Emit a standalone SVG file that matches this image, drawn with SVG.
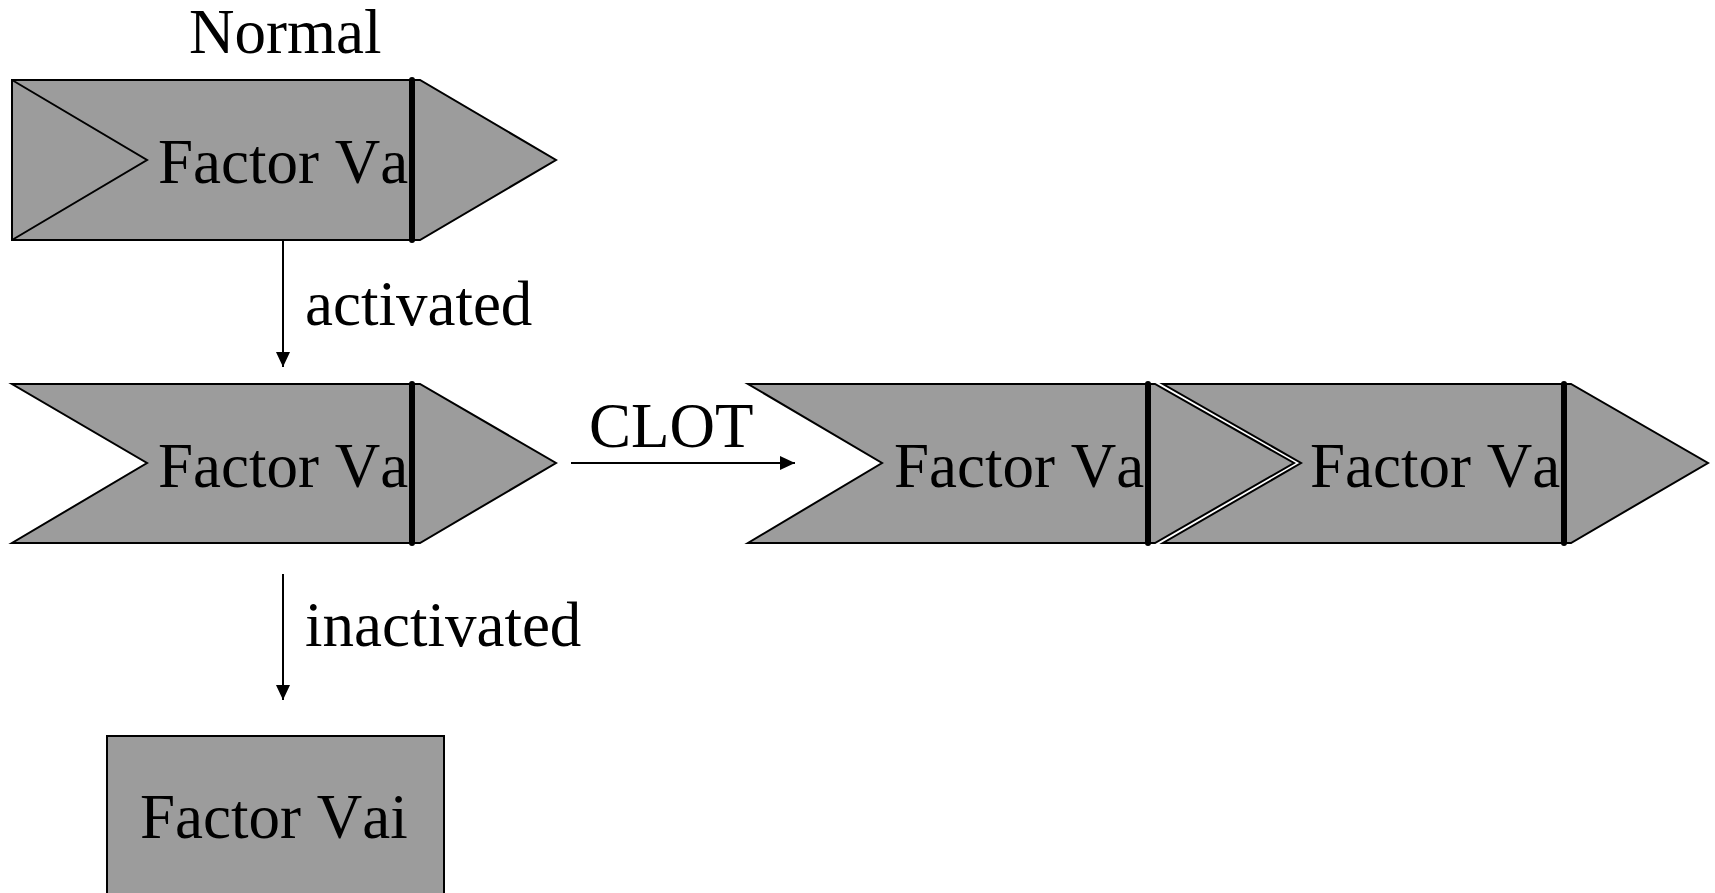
<svg xmlns="http://www.w3.org/2000/svg" width="1715" height="893" viewBox="0 0 1715 893">
<style>
.shape{fill:#9c9c9c;stroke:#000;stroke-width:2;stroke-linejoin:miter}
.bar{stroke:#000;stroke-width:6;stroke-linecap:round}
.lbl{font-family:"Liberation Serif","Times New Roman",serif;font-size:63px;fill:#000;font-kerning:none}
.conn{stroke:#000;stroke-width:2;fill:none}
</style>
<defs>
<marker id="ah" viewBox="0 0 15 14" refX="15" refY="7" markerWidth="15" markerHeight="14" markerUnits="userSpaceOnUse" orient="auto">
<path d="M0,0 L15,7 L0,14 Z" fill="#000"/>
</marker>
</defs>
<rect width="1715" height="893" fill="#fff"/>
<text class="lbl" x="189" y="53">Normal</text>
<g id="node-normal">
<polygon class="shape" points="12,80 420,80 556,160 420,240 12,240"/>
<polyline class="conn" points="12,80 147,160 12,240"/>
<text class="lbl" x="158" y="183">Factor Va</text>
<line class="bar" x1="412" y1="80" x2="412" y2="240"/>
</g>
<g id="node-activated">
<polygon class="shape" points="12,384 420,384 556,463 420,543 12,543 147,463"/>
<text class="lbl" x="158" y="487">Factor Va</text>
<line class="bar" x1="412" y1="384" x2="412" y2="543"/>
</g>
<g id="node-clot1">
<polygon class="shape" points="748,384 1155,384 1294,463 1155,543 748,543 882,463"/>
<text class="lbl" x="894" y="487">Factor Va</text>
<line class="bar" x1="1148" y1="384" x2="1148" y2="543"/>
</g>
<g id="node-clot2">
<polygon class="shape" points="1163,384 1571,384 1708,463 1571,543 1163,543 1301,463"/>
<text class="lbl" x="1310" y="487">Factor Va</text>
<line class="bar" x1="1564" y1="384" x2="1564" y2="543"/>
</g>
<g id="node-vai">
<rect class="shape" x="107" y="736" width="337" height="170"/>
<text class="lbl" x="140" y="838">Factor Vai</text>
</g>
<g id="connectors">
<line class="conn" x1="283" y1="240" x2="283" y2="367" marker-end="url(#ah)"/>
<text class="lbl" x="305" y="325">activated</text>
<line class="conn" x1="283" y1="574" x2="283" y2="700" marker-end="url(#ah)"/>
<text class="lbl" x="305" y="646">inactivated</text>
<line class="conn" x1="571" y1="463" x2="795" y2="463" marker-end="url(#ah)"/>
<text class="lbl" x="589" y="447">CLOT</text>
</g>
</svg>
